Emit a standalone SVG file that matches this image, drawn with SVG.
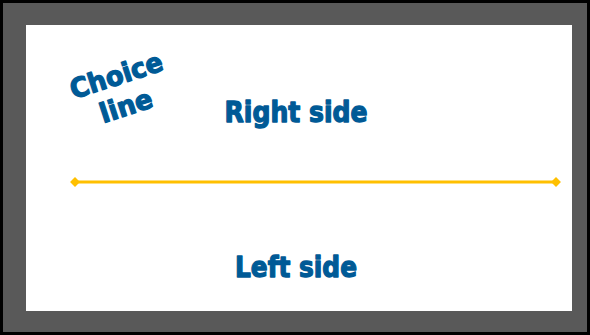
<svg xmlns="http://www.w3.org/2000/svg" width="590" height="335" viewBox="0 0 590 335">
<style>
.t{font-family:"DejaVu Sans",Verdana,sans-serif;font-weight:bold;fill:#005A96;stroke:#005A96;stroke-width:1.3;stroke-linejoin:round;text-anchor:middle}
</style>
<defs>
<marker id="dia" viewBox="0 0 10 10" refX="5" refY="5" markerWidth="3.3" markerHeight="3.3" orient="auto" markerUnits="strokeWidth">
<path d="M0,5 L5,0 L10,5 L5,10 Z" fill="#FFC000"/>
</marker>
</defs>
<rect x="1.5" y="1.5" width="587" height="332" fill="#595959" stroke="#000" stroke-width="3"/>
<rect x="26" y="25" width="546" height="286" fill="#fff"/>
<g id="connectors">
<line x1="75" y1="182" x2="556" y2="182" stroke="#FFC000" stroke-width="3" marker-start="url(#dia)" marker-end="url(#dia)"/>
</g>
<g id="choice-label">
<g transform="translate(116,75) rotate(-18)">
<text class="t" x="0" y="10" font-size="27" textLength="96" lengthAdjust="spacingAndGlyphs">Choice</text>
<text class="t" x="0" y="42" font-size="27" textLength="54" lengthAdjust="spacingAndGlyphs">line</text>
</g>
</g>
<g id="right-side">
<text class="t" x="296" y="122" font-size="28" textLength="143" lengthAdjust="spacingAndGlyphs">Right side</text>
</g>
<g id="left-side">
<text class="t" x="296" y="277" font-size="28" textLength="122" lengthAdjust="spacingAndGlyphs">Left side</text>
</g>
</svg>
